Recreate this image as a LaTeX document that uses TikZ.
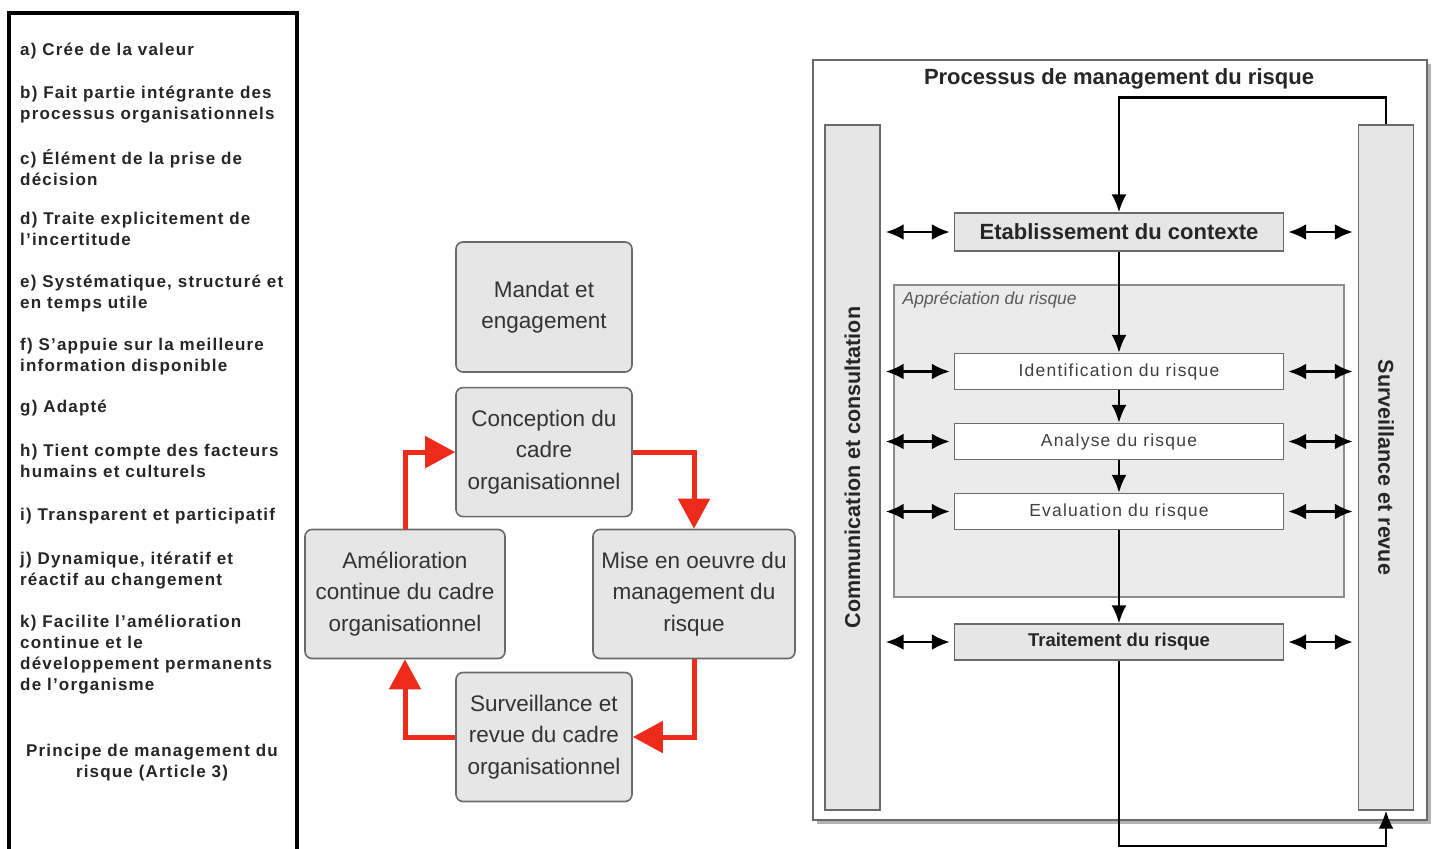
\documentclass[tikz,border=0pt]{standalone}
\usepackage{fontspec}
\setmainfont{Liberation Sans}
\newfontfamily\espace[LetterSpace=7]{Liberation Sans}
\usetikzlibrary{positioning,arrows.meta,shadows}

\definecolor{boxgray}{HTML}{E6E6E6}
\definecolor{edgegray}{HTML}{6A6A6A}
\definecolor{zonegray}{HTML}{EBEBEB}
\definecolor{cyclered}{HTML}{EE2A1B}

\tikzset{
  principe/.style={anchor=north west, inner sep=0pt, align=left, text=black!85, font=\espace\bfseries\fontsize{17}{21}\selectfont},
  cadre/.style={draw=edgegray, fill=boxgray, rounded corners=7pt, line width=1.6pt, minimum width=176pt, minimum height=129pt, inner sep=0pt, align=center, text=black!80, font=\fontsize{22.5}{31.5}\selectfont},
  cycle/.style={draw=cyclered, line width=5pt, -{Triangle[length=30pt,width=31pt]}},
  colonne/.style={draw=edgegray, fill=boxgray, line width=1.4pt, minimum width=55pt, minimum height=685pt, inner sep=0pt, text=black!85, font=\bfseries\fontsize{21.5}{24}\selectfont},
  etape/.style={draw=edgegray, line width=1.4pt, minimum width=329pt, minimum height=36pt, inner sep=0pt, text=black!75, font=\espace\fontsize{17.5}{20}\selectfont},
  flux/.style={line width=2.4pt, -{Latex[length=18pt,width=15pt]}},
  echange/.style={line width=2.8pt, {Latex[length=18pt,width=16pt]}-{Latex[length=18pt,width=16pt]}}
}

\begin{document}
\begin{tikzpicture}[x=1pt, y=-1pt]
  \useasboundingbox[fill=white] (0,0) rectangle (1441,849);

  % principes (article 3)
  \draw[line width=4pt] (9,870) |- (297,13) -- (297,870);
  \foreach \y/\txt in {49/{a) Crée de la valeur},
      92/{b) Fait partie intégrante des\\processus organisationnels},
      155/{c) Élément de la prise de\\décision},
      218/{d) Traite explicitement de\\l’incertitude},
      281/{e) Systématique, structuré et\\en temps utile},
      344/{f) S’appuie sur la meilleure\\information disponible},
      406/{g) Adapté},
      450/{h) Tient compte des facteurs\\humains et culturels},
      514/{i) Transparent et participatif},
      558/{j) Dynamique, itératif et\\réactif au changement},
      621/{k) Facilite l’amélioration\\continue et le\\développement permanents\\de l’organisme}}
    {\node[principe] at (20,\y-6) {\txt};}
  \node[principe, anchor=north, align=center] (article) at (152,744) {Principe de management du\\risque (Article 3)};

  % cadre organisationnel
  \node[cadre, minimum height=130pt] (mandat) at (544,307) {Mandat et\\engagement};
  \node[cadre, below=14pt of mandat] (conception) {Conception du\\cadre\\organisationnel};
  \node[cadre, minimum width=200pt] (amelioration) at (405,594) {Amélioration\\continue du cadre\\organisationnel};
  \node[cadre, minimum width=202pt] (miseenoeuvre) at (694,594) {Mise en oeuvre du\\management du\\risque};
  \node[cadre] (revue) at (544,737) {Surveillance et\\revue du cadre\\organisationnel};
  \draw[cycle] (amelioration.north) |- (conception.west);
  \draw[cycle] (conception.east) -| (miseenoeuvre.north);
  \draw[cycle] (miseenoeuvre.south) |- (revue.east);
  \draw[cycle] (revue.west) -| (amelioration.south);

  % processus de management du risque
  \node[draw=edgegray, line width=1.5pt, minimum width=614pt, minimum height=760pt, fill=white,
        drop shadow={shadow xshift=4pt, shadow yshift=-4pt, opacity=.6}] (processus) at (1120,440) {};
  \node[font=\bfseries\fontsize{22}{26}\selectfont, text=black!85] (titre) at (1119,79) {Processus de management du risque};
  \node[colonne] (communication) at (852.5,467.5) {\rotatebox{90}{Communication et consultation}};
  \node[colonne] (surveillance) at (1386,467.5) {\rotatebox{-90}{Surveillance et revue}};
  \node[draw=black!45, fill=zonegray, line width=1.2pt, minimum width=450pt, minimum height=312pt] (appreciation) at (1119,441) {};
  \node[below right=7pt and 9pt of appreciation.north west, inner sep=0pt, text=black!65, font=\itshape\fontsize{17.5}{20}\selectfont] (nomzone) {Appréciation du risque};

  \node[etape, fill=boxgray, minimum height=38pt, text=black!85, font=\bfseries\fontsize{22}{24}\selectfont] (etablissement) at (1119,232) {Etablissement du contexte};
  \node[etape, fill=white] (identification) at (1119,371.5) {Identification du risque};
  \node[etape, fill=white] (analyse) at (1119,441.5) {Analyse du risque};
  \node[etape, fill=white] (evaluation) at (1119,511.5) {Evaluation du risque};
  \node[etape, fill=boxgray, text=black!85, font=\bfseries\fontsize{18.5}{20}\selectfont] (traitement) at (1119,642) {Traitement du risque};

  \draw[flux] (etablissement) -- (identification);
  \draw[flux] (identification) -- (analyse);
  \draw[flux] (analyse) -- (evaluation);
  \draw[flux] (evaluation) -- (traitement);
  \draw[flux] (surveillance.north) -- ++(0,-27) -| (etablissement.north);
  \draw[flux] (traitement.south) -- ++(0,185) -| (surveillance.south);
  \foreach \etape in {etablissement,identification,analyse,evaluation,traitement}{
    \draw[echange, shorten <=5pt, shorten >=4pt] (communication.east |- \etape.west) -- (\etape.west);
    \draw[echange, shorten <=4pt, shorten >=5pt] (\etape.east) -- (surveillance.west |- \etape.east);
  }
\end{tikzpicture}
\end{document}
